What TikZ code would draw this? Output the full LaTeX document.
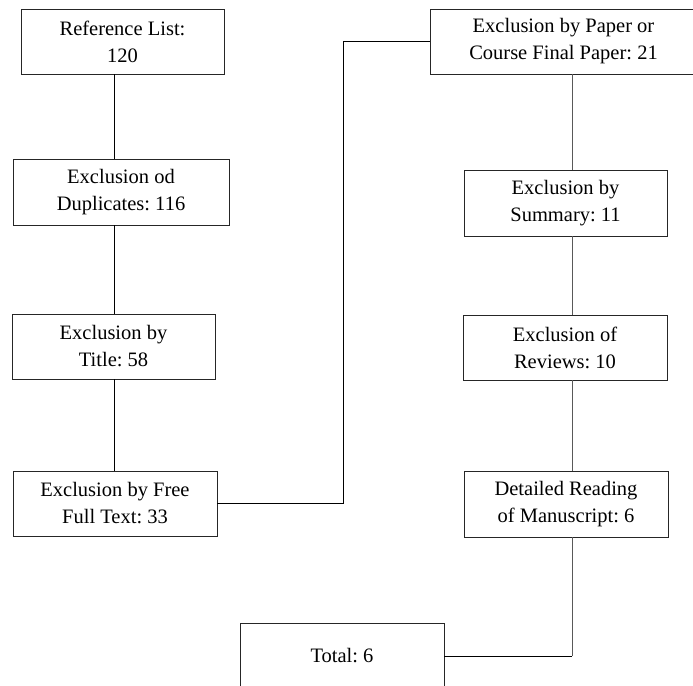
\documentclass[tikz,border=0pt]{standalone}
\usepackage{fontspec}
\setmainfont{Liberation Serif}
\frenchspacing
\begin{document}
\begin{tikzpicture}[x=1pt,y=-1pt,
  box/.style={draw=black!85, line width=0.8pt, inner sep=0pt, align=center,
    font=\fontsize{20.5}{27}\selectfont},
  link/.style={draw=black, line width=0.8pt},
  rlink/.style={draw=black!65, line width=0.9pt}]
\useasboundingbox (0,0) rectangle (693,685);
\node[box, minimum width=203pt, minimum height=65pt] (ref) at (122.5,41.5) {Reference List:\\120};
\node[box, minimum width=216pt, minimum height=66pt] (dup) at (121,192) {Exclusion od\\Duplicates: 116};
\node[box, minimum width=203pt, minimum height=65pt] (title) at (113.5,346.5) {Exclusion by\\Title: 58};
\node[box, minimum width=204pt, minimum height=65pt] (ff) at (115,503.5) {Exclusion by Free\\Full Text: 33};
\node[box, minimum width=267pt, minimum height=65pt] (paper) at (563.5,41.5) {Exclusion by Paper or\\Course Final Paper: 21};
\node[box, minimum width=203pt, minimum height=66pt] (sum) at (565.5,203) {Exclusion by\\Summary: 11};
\node[box, minimum width=204pt, minimum height=65pt] (rev) at (565,347.5) {Exclusion of\\Reviews: 10};
\node[box, minimum width=204pt, minimum height=66pt] (det) at (566,504) {Detailed Reading\\of Manuscript: 6};
\node[box, minimum width=204pt, minimum height=66pt] (tot) at (342,656) {Total: 6};
\coordinate (lx) at (114,0);
\coordinate (rx) at (572,0);
\coordinate (mx) at (343,0);
\draw[link] (ref.south -| lx) -- (dup.north -| lx);
\draw[link] (dup.south -| lx) -- (title.north -| lx);
\draw[link] (title.south -| lx) -- (ff.north -| lx);
\draw[link] (ff.east) -- (ff.east -| mx) -- (paper.west -| mx) -- (paper.west);
\draw[rlink] (paper.south -| rx) -- (sum.north -| rx);
\draw[rlink] (sum.south -| rx) -- (rev.north -| rx);
\draw[rlink] (rev.south -| rx) -- (det.north -| rx);
\draw[rlink] (det.south -| rx) -- (tot.east -| rx);
\draw[link] (tot.east -| rx) -- (tot.east);
\end{tikzpicture}
\end{document}
